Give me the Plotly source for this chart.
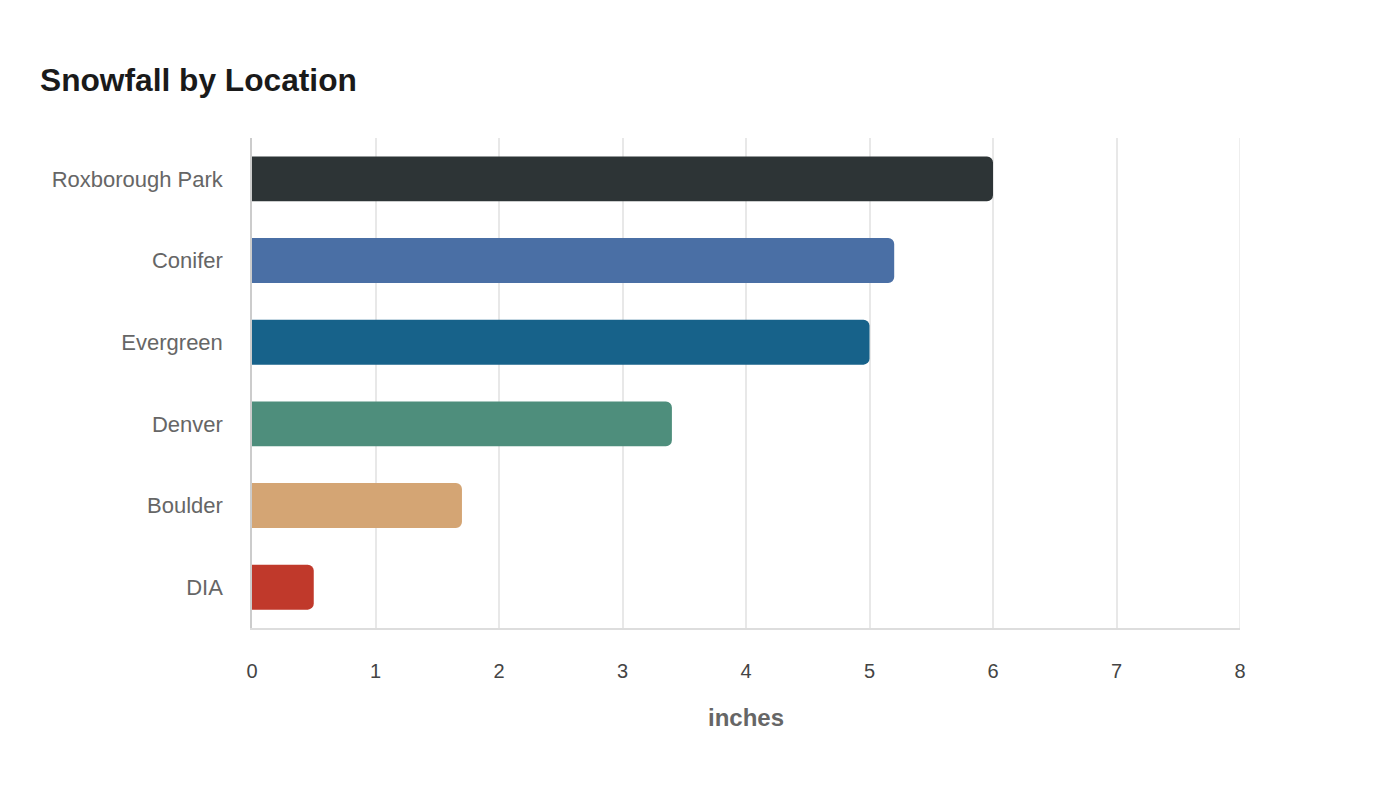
import plotly.graph_objects as go

# snowfall totals, inches
locations = ["Roxborough Park", "Conifer", "Evergreen", "Denver", "Boulder", "DIA"]
snowfall = [6.0, 5.2, 5.0, 3.4, 1.7, 0.5]
bar_colors = ["#2d3436", "#4a6fa5", "#17628a", "#4e8e7c", "#d4a574", "#c0392b"]
x_ticks = [0, 1, 2, 3, 4, 5, 6, 7, 8]

fig = go.Figure()
fig.add_trace(go.Bar(
    x=snowfall,
    y=locations,
    orientation="h",
    marker=dict(color=bar_colors, line=dict(width=0)),
    hoverinfo="x+y",
))

# plotly drops the gridline sitting on the right edge, draw it back
fig.add_vline(x=x_ticks[-1], line=dict(color="#e8e8e8", width=1.5), layer="below")

# the page adds an 8px body margin, so everything is placed 8px up/left
fig.update_layout(
    width=1400,
    height=800,
    paper_bgcolor="white",
    plot_bgcolor="white",
    font=dict(family="Liberation Sans, Arial, sans-serif", color="#666666"),
    title=dict(
        text="<b>Snowfall by Location</b>",
        x=32 / 1400,
        xanchor="left",
        y=1 - 72 / 800,
        yanchor="middle",
        font=dict(size=31.7, color="#1a1a1a"),
    ),
    margin=dict(l=244, r=168, t=130, b=180),
    bargap=0.45,
    barcornerradius=6,
    showlegend=False,
    xaxis=dict(
        range=[0, 8],
        tickvals=x_ticks,
        showgrid=True,
        gridcolor="#e8e8e8",
        gridwidth=1.5,
        zeroline=False,
        showline=True,
        linecolor="#dddddd",
        linewidth=1.5,
        ticks="",
        ticklabelstandoff=24,
        tickfont=dict(size=20, color="#444444"),
        title=dict(text="<b>inches</b>", font=dict(size=24, color="#666666"), standoff=28),
    ),
    yaxis=dict(
        categoryorder="array",
        categoryarray=locations[::-1],
        range=[-0.5, 5.5],
        showgrid=False,
        showline=True,
        linecolor="#cccccc",
        linewidth=1.5,
        ticks="",
        ticklabelstandoff=23,
        tickfont=dict(size=22, color="#666666"),
    ),
)

fig.write_html("out.html")
